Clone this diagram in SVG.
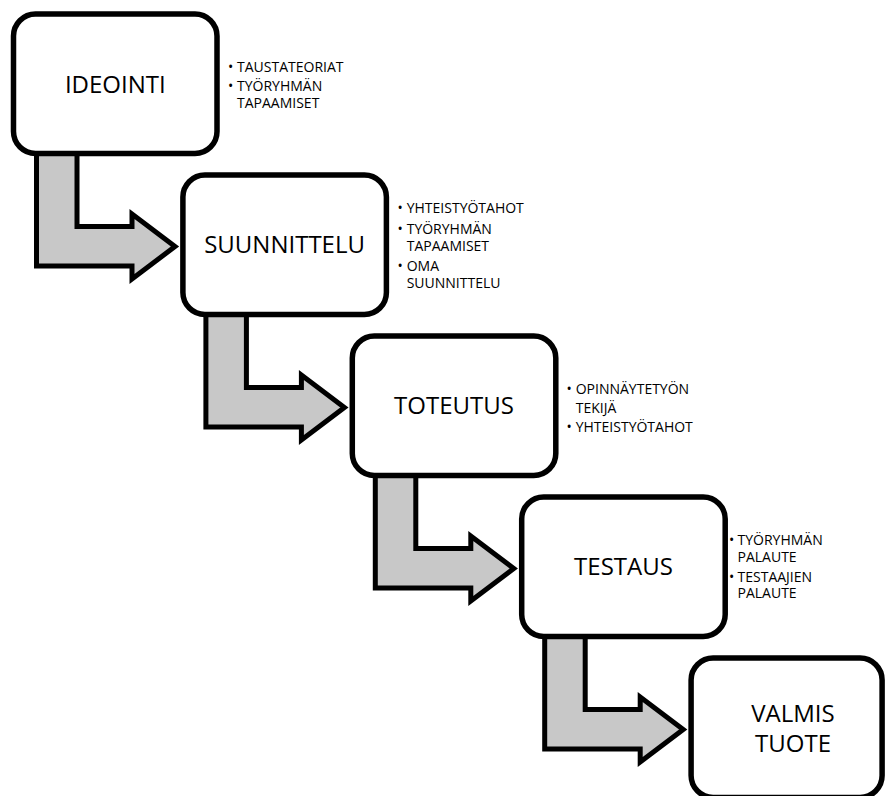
<svg xmlns="http://www.w3.org/2000/svg" xmlns:xlink="http://www.w3.org/1999/xlink" width="885" height="796" viewBox="0 0 885 796">
  <style>
    .box { fill: #ffffff; stroke: #000000; stroke-width: 5.5; }
    .arrow { fill: #c8c8c8; stroke: #000000; stroke-width: 5; stroke-linejoin: miter; stroke-miterlimit: 10; }
    .title { font-family: "Open Sans", "Noto Sans", sans-serif; font-size: 24px; fill: #000000; text-anchor: middle; }
    .note { font-family: "Open Sans", "Noto Sans", sans-serif; font-size: 14px; fill: #000000; }
  </style>
  <defs>
    <path id="bentArrow" d="M36.5,148 L77,148 L77,226.5 L132,226.5 L132,214 L175,246.5 L132,279 L132,266 L36.5,266 Z"/>
  </defs>
  <rect width="885" height="796" fill="#ffffff"/>

  <g id="connectors">
    <use xlink:href="#bentArrow" href="#bentArrow" class="arrow" x="0" y="0"/>
    <use xlink:href="#bentArrow" href="#bentArrow" class="arrow" x="169.4" y="161"/>
    <use xlink:href="#bentArrow" href="#bentArrow" class="arrow" x="338.8" y="322"/>
    <use xlink:href="#bentArrow" href="#bentArrow" class="arrow" x="508.2" y="483"/>
  </g>

  <g id="ideointi">
    <rect class="box" x="13.5" y="14" width="203.5" height="139.5" rx="22" ry="22"/>
    <text class="title" x="115.3" y="93">IDEOINTI</text>
    <text class="note">
      <tspan x="228" y="71.7">•</tspan><tspan x="237" y="71.7">TAUSTATEORIAT</tspan>
      <tspan x="228" y="91">•</tspan><tspan x="237" y="91">TYÖRYHMÄN</tspan>
      <tspan x="237" y="107.7">TAPAAMISET</tspan>
    </text>
  </g>

  <g id="suunnittelu">
    <rect class="box" x="182.9" y="175" width="203.5" height="139.5" rx="22" ry="22"/>
    <text class="title" x="284.6" y="253.3">SUUNNITTELU</text>
    <text class="note">
      <tspan x="397.5" y="213.3">•</tspan><tspan x="406.7" y="213.3">YHTEISTYÖTAHOT</tspan>
      <tspan x="397.5" y="234.3">•</tspan><tspan x="406.7" y="234.3">TYÖRYHMÄN</tspan>
      <tspan x="406.7" y="250.5">TAPAAMISET</tspan>
      <tspan x="397.5" y="271">•</tspan><tspan x="406.7" y="271">OMA</tspan>
      <tspan x="406.7" y="288.3">SUUNNITTELU</tspan>
    </text>
  </g>

  <g id="toteutus">
    <rect class="box" x="352.3" y="336" width="203.5" height="139.5" rx="22" ry="22"/>
    <text class="title" x="454" y="413.5">TOTEUTUS</text>
    <text class="note">
      <tspan x="566.5" y="394">•</tspan><tspan x="575.7" y="394">OPINNÄYTETYÖN</tspan>
      <tspan x="575.7" y="413">TEKIJÄ</tspan>
      <tspan x="566.5" y="431.7">•</tspan><tspan x="575.7" y="431.7">YHTEISTYÖTAHOT</tspan>
    </text>
  </g>

  <g id="testaus">
    <rect class="box" x="521.7" y="497" width="203.5" height="139.5" rx="22" ry="22"/>
    <text class="title" x="623.5" y="575">TESTAUS</text>
    <text class="note">
      <tspan x="729" y="545">•</tspan><tspan x="737.5" y="545">TYÖRYHMÄN</tspan>
      <tspan x="737.5" y="561.7">PALAUTE</tspan>
      <tspan x="729" y="581.7">•</tspan><tspan x="737.5" y="581.7">TESTAAJIEN</tspan>
      <tspan x="737.5" y="598.3">PALAUTE</tspan>
    </text>
  </g>

  <g id="valmis-tuote">
    <rect class="box" x="691.1" y="658" width="191" height="139.5" rx="22" ry="22"/>
    <text class="title" x="793" y="721.7">VALMIS</text>
    <text class="title" x="793" y="751.7">TUOTE</text>
  </g>
</svg>
